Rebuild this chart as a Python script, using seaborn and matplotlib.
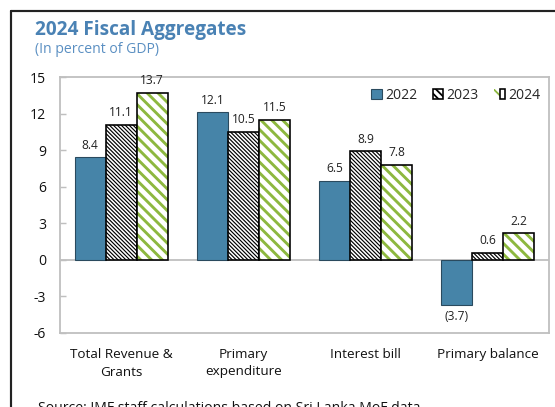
import matplotlib
matplotlib.use("Agg")
import matplotlib.pyplot as plt
from matplotlib.patches import Patch, Rectangle
from matplotlib.lines import Line2D
from matplotlib.legend_handler import HandlerTuple
import seaborn as sns
import pandas as pd

categories = ["Total Revenue &\nGrants", "Primary\nexpenditure", "Interest bill", "Primary balance"]
years = ["2022", "2023", "2024"]
values_2022 = [8.4, 12.1, 6.5, -3.7]
values_2023 = [11.1, 10.5, 8.9, 0.6]
values_2024 = [13.7, 11.5, 7.8, 2.2]
y_ticks = [-6, -3, 0, 3, 6, 9, 12, 15]

BLUE = "#4684A8"
GREEN = "#8DB83F"
TITLE_BLUE = "#4A82B4"
SPINE = "#BFBFBF"
HATCH_FINE = "\\" * 11
HATCH_WIDE = "\\" * 4

DPI = 130
def px(v):
    return v * 72 / DPI

sns.set_theme(style="white")
plt.rcParams["font.family"] = ["Open Sans", "DejaVu Sans"]

rows = []
for yr, vals in zip(years, [values_2022, values_2023, values_2024]):
    for cat, v in zip(categories, vals):
        rows.append({"category": cat, "year": yr, "value": v})
df = pd.DataFrame(rows)

fig = plt.figure(figsize=(555 / DPI, 407 / DPI), dpi=DPI)
ax = fig.add_axes([60 / 555, 1 - 333 / 407, 489 / 555, 256 / 407])

sns.barplot(data=df, x="category", y="value", hue="year", order=categories,
            hue_order=years, palette={"2022": BLUE, "2023": "white", "2024": "white"},
            width=0.76, gap=0, saturation=1, legend=False, ax=ax)

def hatch_lw(p, w):
    if hasattr(p, "set_hatch_linewidth"):
        p.set_hatch_linewidth(w)

c22, c23, c24 = ax.containers
for p in c22.patches:
    p.set_edgecolor("#2A4A5E")
    p.set_linewidth(0.6)
for p in c23.patches:
    p.set_facecolor("white")
    p.set_edgecolor("black")
    p.set_linewidth(0.9)
    p.set_hatch(HATCH_FINE)
    hatch_lw(p, 0.65)
for p in c24.patches:
    p.set_facecolor("white")
    p.set_edgecolor(GREEN)
    p.set_linewidth(0)
    p.set_hatch(HATCH_WIDE)
    hatch_lw(p, 1.6)
    ax.add_patch(Rectangle(p.get_xy(), p.get_width(), p.get_height(),
                           fill=False, edgecolor="black", linewidth=0.9, zorder=p.get_zorder() + 0.1))

def fmt(v):
    return f"({abs(v):.1f})" if v < 0 else f"{v:.1f}"

for cont, vals in zip([c22, c23, c24], [values_2022, values_2023, values_2024]):
    ax.bar_label(cont, labels=[fmt(v) for v in vals], padding=3, fontsize=px(12), color="#222222")

ax.axhline(0, color=SPINE, linewidth=1.0, zorder=0.5)
ax.set_ylim(-6, 15)
ax.set_xlim(-0.5, 3.5)
ax.set_yticks(y_ticks)
ax.set_yticklabels([str(t) for t in y_ticks])
ax.set_xlabel("")
ax.set_ylabel("")
for s in ax.spines.values():
    s.set_color(SPINE)
    s.set_linewidth(1.0)
ax.tick_params(axis="y", direction="in", length=px(6), width=0.8, color=SPINE,
               labelsize=px(14), pad=px(14), labelcolor="#111111", left=True)
ax.tick_params(axis="x", length=0, labelsize=px(13.5), pad=px(15), labelcolor="#111111")
for lab in ax.get_xticklabels():
    lab.set_linespacing(1.45)

# legend
h22 = Patch(facecolor=BLUE, edgecolor="#2A4A5E", linewidth=0.6)
h23 = Patch(facecolor="white", edgecolor="black", hatch="\\" * 6, linewidth=0.9)
h24g = Patch(facecolor="white", edgecolor=GREEN, hatch="\\" * 3, linewidth=0)
h24b = Patch(fill=False, edgecolor="black", linewidth=0.9)
hatch_lw(h23, 0.65)
hatch_lw(h24g, 1.6)
leg = ax.legend([h22, h23, (h24g, h24b)], years, ncol=3, frameon=False,
                loc="upper right", bbox_to_anchor=(1.0 + 4 / 489, 1.0 + 2 / 256),
                handler_map={tuple: HandlerTuple(ndivide=None, pad=0)},
                handlelength=0.75, handleheight=0.75, handletextpad=0.25,
                columnspacing=1.1, fontsize=px(14))

# title block
fig.text(35 / 555, 1 - 35 / 407, "2024 Fiscal Aggregates", fontsize=px(19),
         fontweight="bold", color=TITLE_BLUE, va="baseline", ha="left")
fig.text(35 / 555, 1 - 53 / 407, "(In percent of GDP)", fontsize=px(14),
         color="#5A8FC2", va="baseline", ha="left")
fig.text(38 / 555, 1 - 412 / 407, "Source: IMF staff calculations based on Sri Lanka MoF data.",
         fontsize=px(14), color="#111111", va="baseline", ha="left")

# outer frame
fig.add_artist(Line2D([11 / 555, 11 / 555], [0, 1 - 11 / 407], color="#222222", linewidth=1.2,
                      transform=fig.transFigure))
fig.add_artist(Line2D([11 / 555, 1], [1 - 11 / 407, 1 - 11 / 407], color="#222222", linewidth=1.2,
                      transform=fig.transFigure))

fig.savefig("out.png", dpi=DPI, facecolor="white")
